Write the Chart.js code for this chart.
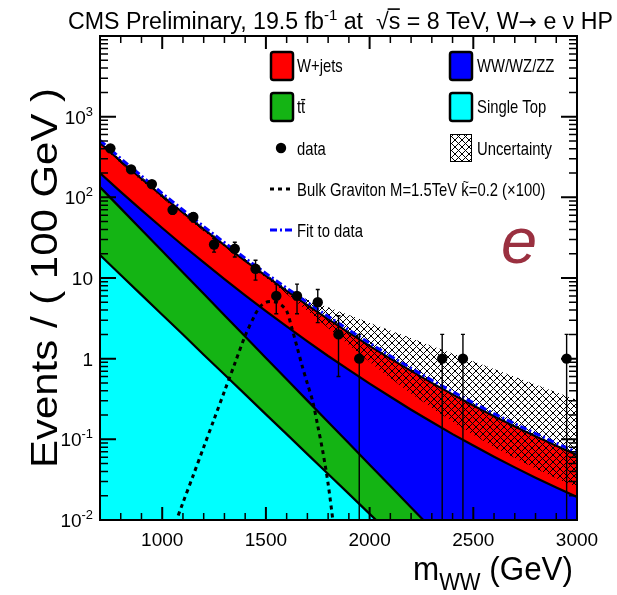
<!DOCTYPE html>
<html>
<head>
<meta charset="utf-8">
<script src="https://cdn.jsdelivr.net/npm/chart.js@4.4.1/dist/chart.umd.min.js"></script>
<style>
  html, body { margin: 0; padding: 0; background: #fff; }
  #c { display: block; }
</style>
</head>
<body>
<canvas id="c" width="617" height="595"></canvas>
<script>
// ---- background fit curves, sampled every 100 GeV (stacked edges, events / 100 GeV)
const massGrid = [700, 800, 900, 1000, 1100, 1200, 1300, 1400, 1500, 1600, 1700, 1800,
                  1900, 2000, 2100, 2200, 2300, 2400, 2500, 2600, 2700, 2800, 2900, 3000];
const stackSingleTop = [19.3, 10.9, 6.18, 3.50, 1.99, 1.12, 0.637, 0.361, 0.204, 0.116, 0.0656, 0.0372,
                        0.0211, 0.0119, 0.00676, 0.00383, 0.00217, 0.00123, 0.0007, 0.0004, 0.00022, 0.00013, 0.00007, 0.00004];
const stackTTbar = [134, 73.0, 39.7, 21.6, 11.7, 6.37, 3.46, 1.88, 1.02, 0.556, 0.302, 0.164,
                    0.0892, 0.0485, 0.0264, 0.0143, 0.0078, 0.0042, 0.0023, 0.00125, 0.00068, 0.00037, 0.0002, 0.00011];
const stackDiboson = [200, 117, 69.5, 41.7, 25.3, 15.6, 9.70, 6.11, 3.89, 2.51, 1.64, 1.08,
                      0.726, 0.491, 0.337, 0.233, 0.164, 0.116, 0.0837, 0.0609, 0.0449, 0.0335, 0.0253, 0.0193];
const stackWJets = [471, 281, 170, 104, 64.4, 40.3, 25.5, 16.3, 10.6, 6.94, 4.61, 3.09,
                    2.10, 1.44, 1.00, 0.705, 0.501, 0.361, 0.262, 0.193, 0.144, 0.109, 0.083, 0.064];
const fitCurve = [509, 303, 184, 112, 69.6, 43.5, 27.5, 17.6, 11.4, 7.50, 4.98, 3.34,
                  2.27, 1.56, 1.08, 0.761, 0.541, 0.390, 0.283, 0.208, 0.156, 0.118, 0.0896, 0.0691];
const uncUpper = [499, 298, 180, 110, 68.3, 42.7, 27.0, 17.3, 11.2, 7.36, 5.41, 4.34,
                  3.48, 2.79, 2.24, 1.80, 1.44, 1.16, 0.927, 0.743, 0.596, 0.478, 0.384, 0.308];
const uncLower = [445, 265, 160.5, 98.2, 60.8, 38.1, 24.1, 15.4, 10.0, 6.33, 3.92, 2.40,
                  1.49, 0.909, 0.575, 0.370, 0.245, 0.165, 0.114, 0.0805, 0.0587, 0.0434, 0.0330, 0.0255];

// ---- observed events (bin centres) with their errors
const dataMass = [750, 850, 950, 1050, 1150, 1250, 1350, 1450, 1550, 1650, 1750, 1850, 1950, 2350, 2450, 2950];
const dataCounts = [405, 222, 146, 70, 57, 26, 23, 13, 6, 6, 5, 2, 1, 1, 1, 1];
const dataErr = [20.1, 14.9, 12.1, 8.4, 7.5, 5.1, 4.8, 3.6, 2.4, 2.4, 2.2, 1.4, 1, 1, 1, 1];

// ---- Bulk graviton signal, M = 1.5 TeV, scaled x100
const sigMass = [1050, 1100, 1150, 1200, 1250, 1300, 1350, 1400, 1450, 1475, 1500, 1525,
                 1550, 1575, 1600, 1625, 1650, 1675, 1700, 1725, 1750, 1775, 1800, 1825];
const sigYield = [0.0074, 0.0164, 0.036, 0.080, 0.177, 0.393, 0.87, 1.92, 3.6, 4.5, 5.0, 5.1,
                  5.0, 4.6, 3.9, 2.4, 1.4, 0.81, 0.49, 0.30, 0.147, 0.069, 0.028, 0.009];

// ---- axis labelling
const xTickLabels = [1000, 1500, 2000, 2500, 3000];
const yTickExponents = [-2, -1, 0, 1, 2, 3];

const COL_WJETS = '#ff0000';
const COL_VV = '#0000ff';
const COL_TT = '#14b414';
const COL_ST = '#00ffff';
const FONT = '"Liberation Sans", Arial, Helvetica, sans-serif';

function font(size, style, family) { return (style || '') + ' ' + size + 'px ' + (family || FONT); }

// crosshatch used for the systematic band
function makeHatch(ctx) {
  const s = 7;
  const c = document.createElement('canvas');
  c.width = s; c.height = s;
  const g = c.getContext('2d');
  g.strokeStyle = '#000';
  g.lineWidth = 1;
  g.beginPath();
  g.moveTo(-1, -1); g.lineTo(s + 1, s + 1);
  g.moveTo(s + 1, -1); g.lineTo(-1, s + 1);
  g.stroke();
  return ctx.createPattern(c, 'repeat');
}

// rich text: parts = [{t, s (size factor), dy (em offset), bar, tilde, f (family)}]
function measureParts(ctx, parts, size) {
  let w = 0;
  for (const p of parts) {
    ctx.font = font(size * (p.s || 1), p.it ? 'italic' : '', p.f);
    p._w = ctx.measureText(p.t).width;
    w += p._w;
  }
  return w;
}
function drawParts(ctx, parts, x, y, size, opt) {
  opt = opt || {};
  const raw = measureParts(ctx, parts, size);
  const sx = opt.width ? opt.width / raw : (opt.sx || 1);
  const w = raw * sx;
  const align = opt.align || 'left';
  const x0 = align === 'right' ? x - w : align === 'center' ? x - w / 2 : x;
  ctx.save();
  ctx.translate(x0, y);
  ctx.scale(sx, 1);
  ctx.fillStyle = opt.color || '#000';
  ctx.textAlign = 'left';
  ctx.textBaseline = 'alphabetic';
  let cx = 0;
  for (const p of parts) {
    const ps = size * (p.s || 1);
    const dy = (p.dy || 0) * size;
    ctx.font = font(ps, p.it ? 'italic' : '', p.f);
    ctx.fillText(p.t, cx, dy);
    if (p.bar) ctx.fillRect(cx + (p.barX || 0), dy - ps * (p.barY || 0.84), p._w * (p.barW || 0.9), Math.max(1.2, ps * 0.07));
    if (p.tilde) {
      ctx.font = font(ps * 0.7);
      const tw = ctx.measureText('~').width;
      ctx.fillText('~', cx + (p._w - tw) / 2 + 1, dy - ps * 0.52);
    }
    cx += p._w;
  }
  ctx.restore();
  return w;
}

const decor = {
  id: 'decor',
  beforeDatasetDraw(chart, args) {
    if (args.index !== 0) return;
    const { ctx, chartArea: a } = chart;
    const xs = chart.scales.x, ys = chart.scales.y;
    ctx.save();
    ctx.beginPath();
    ctx.rect(a.left, a.top, a.right - a.left, a.bottom - a.top);
    ctx.clip();
    ctx.strokeStyle = '#000';
    ctx.lineWidth = 1.4;
    dataMass.forEach((m, i) => {
      const px = xs.getPixelForValue(m);
      const hi = ys.getPixelForValue(dataCounts[i] + dataErr[i]);
      const lowVal = dataCounts[i] - dataErr[i];
      const lo = lowVal > 0 ? ys.getPixelForValue(lowVal) : a.bottom + 5;
      ctx.beginPath();
      ctx.moveTo(px, hi); ctx.lineTo(px, lo);
      ctx.moveTo(px - 2, hi); ctx.lineTo(px + 2, hi);
      ctx.moveTo(px - 2, lo); ctx.lineTo(px + 2, lo);
      ctx.stroke();
    });
    ctx.restore();
  },
  afterDraw(chart) {
    const { ctx, chartArea: a } = chart;
    const xs = chart.scales.x, ys = chart.scales.y;

    // frame
    ctx.save();
    ctx.strokeStyle = '#000';
    ctx.lineWidth = 2;
    ctx.strokeRect(a.left, a.top, a.right - a.left, a.bottom - a.top);

    // x ticks (bottom and top), pointing inwards
    for (let m = 700; m <= 3000; m += 100) {
      const major = m % 500 === 0;
      const len = major ? 13 : 7;
      const px = xs.getPixelForValue(m);
      ctx.lineWidth = major ? 2 : 1.5;
      ctx.beginPath();
      ctx.moveTo(px, a.bottom); ctx.lineTo(px, a.bottom - len);
      ctx.moveTo(px, a.top); ctx.lineTo(px, a.top + len);
      ctx.stroke();
    }
    // y ticks (left and right)
    for (let d = -2; d <= 4; d++) {
      for (let k = 1; k <= 9; k++) {
        const v = k * Math.pow(10, d);
        if (v > 10000.0001) break;
        const major = k === 1;
        const len = major ? 16 : 8;
        const py = ys.getPixelForValue(v);
        ctx.lineWidth = major ? 2 : 1.5;
        ctx.beginPath();
        ctx.moveTo(a.left, py); ctx.lineTo(a.left + len, py);
        ctx.moveTo(a.right, py); ctx.lineTo(a.right - len, py);
        ctx.stroke();
      }
    }
    ctx.restore();

    // x tick labels
    xTickLabels.forEach(m => {
      drawParts(ctx, [{ t: String(m) }], xs.getPixelForValue(m), a.bottom + 26, 19, { align: 'center' });
    });
    // y tick labels
    yTickExponents.forEach(e => {
      const py = ys.getPixelForValue(Math.pow(10, e));
      let parts;
      if (e === 0) parts = [{ t: '1' }];
      else if (e === 1) parts = [{ t: '10' }];
      else parts = [{ t: '10' }, { t: String(e), s: 0.68, dy: -0.42 }];
      drawParts(ctx, parts, 93, py + 7, 19, { align: 'right' });
    });

    // axis titles
    drawParts(ctx, [{ t: 'm' }, { t: 'WW', s: 0.7, dy: 0.3 }, { t: ' (GeV)' }], 573, 580, 33, { align: 'right', width: 160 });
    ctx.save();
    ctx.translate(57, 278);
    ctx.rotate(-Math.PI / 2);
    drawParts(ctx, [{ t: 'Events / ( 100 GeV )' }], 0, 0, 37, { align: 'center', width: 380 });
    ctx.restore();

    // title
    drawParts(ctx, [
      { t: 'CMS Preliminary, 19.5 fb' }, { t: '-1', s: 0.65, dy: -0.4 }, { t: ' at  ' },
      { t: '\u221A' }, { t: 's', bar: true, barX: -1, barW: 1.05, barY: 0.9 }, { t: ' = 8 TeV, W' },
      { t: '\u2192', f: '"DejaVu Sans", sans-serif', s: 0.95 }, { t: ' e ' }, { t: '\u03BD' }, { t: ' HP' }
    ], 68, 29, 23, { width: 545 });

    // channel tag
    drawParts(ctx, [{ t: 'e', it: true }], 501, 263, 65, { color: '#9a3040' });

    // legend
    const LS = 19, LSX = 0.78;
    function box(x, y, fill) {
      ctx.save();
      ctx.fillStyle = fill;
      ctx.strokeStyle = '#000';
      ctx.lineWidth = 2.5;
      ctx.beginPath();
      if (ctx.roundRect) ctx.roundRect(x, y, 22, 28, 2.5); else ctx.rect(x, y, 22, 28);
      ctx.fill();
      ctx.stroke();
      ctx.restore();
    }
    box(271, 52, COL_WJETS);
    box(450, 52, COL_VV);
    box(271, 93, COL_TT);
    box(450, 93, COL_ST);
    ctx.save();
    ctx.fillStyle = '#fff';
    ctx.fillRect(450, 134, 22, 28);
    ctx.fillStyle = makeHatch(ctx);
    ctx.fillRect(450, 134, 22, 28);
    ctx.strokeStyle = '#000';
    ctx.lineWidth = 1;
    ctx.strokeRect(450.5, 134.5, 21, 27);
    // data marker
    ctx.fillStyle = '#000';
    ctx.beginPath(); ctx.arc(281, 148, 5.2, 0, Math.PI * 2); ctx.fill();
    // signal and fit samples
    ctx.lineWidth = 3;
    ctx.strokeStyle = '#000';
    ctx.setLineDash([4, 4]);
    ctx.beginPath(); ctx.moveTo(270, 189); ctx.lineTo(294, 189); ctx.stroke();
    ctx.strokeStyle = '#0000ff';
    ctx.setLineDash([7, 3, 2, 3]);
    ctx.beginPath(); ctx.moveTo(270, 230); ctx.lineTo(294, 230); ctx.stroke();
    ctx.restore();

    drawParts(ctx, [{ t: 'W+jets' }], 297, 72, LS, { sx: LSX });
    drawParts(ctx, [{ t: 'WW/WZ/ZZ' }], 477, 72, LS, { sx: LSX });
    drawParts(ctx, [{ t: 't' }, { t: 't', bar: true, barY: 0.74, barW: 1.0 }], 297, 113, LS, { sx: LSX });
    drawParts(ctx, [{ t: 'Single Top' }], 477, 113, LS, { sx: LSX });
    drawParts(ctx, [{ t: 'data' }], 297, 155, LS, { sx: LSX });
    drawParts(ctx, [{ t: 'Uncertainty' }], 477, 155, LS, { sx: LSX });
    drawParts(ctx, [{ t: 'Bulk Graviton M=1.5TeV ' }, { t: 'k', tilde: true }, { t: '=0.2 (\u00D7100)' }], 297, 196, LS, { sx: LSX });
    drawParts(ctx, [{ t: 'Fit to data' }], 297, 237, LS, { sx: LSX });
  }
};

const ctx = document.getElementById('c').getContext('2d');
const pts = (xs, ys) => xs.map((x, i) => ({ x: x, y: ys[i] }));
const noLine = { borderColor: 'rgba(0,0,0,0)', borderWidth: 0, pointRadius: 0 };

new Chart(ctx, {
  type: 'line',
  data: {
    datasets: [
      { label: 'data', data: pts(dataMass, dataCounts), showLine: false,
        pointRadius: 5.2, pointBackgroundColor: '#000', pointBorderColor: '#000', pointBorderWidth: 0, clip: 0 },
      { label: 'Fit to data', data: pts(massGrid, fitCurve), borderColor: '#0000ff', borderWidth: 3,
        borderDash: [7, 3, 2, 3], pointRadius: 0, fill: false, clip: 0 },
      { label: 'Bulk Graviton', data: pts(sigMass, sigYield), borderColor: '#000', borderWidth: 3,
        borderDash: [4, 4], pointRadius: 0, fill: false, tension: 0.3, clip: 0 },
      Object.assign({ label: 'unc-low', data: pts(massGrid, uncLower), fill: false, clip: 0 }, noLine),
      Object.assign({ label: 'Uncertainty', data: pts(massGrid, uncUpper), fill: '-1',
        backgroundColor: makeHatch(ctx), clip: 0 }, noLine),
      { label: 'W+jets', data: pts(massGrid, stackWJets), borderColor: '#000', borderWidth: 2.2,
        pointRadius: 0, fill: '+1', backgroundColor: COL_WJETS, clip: 0 },
      { label: 'WW/WZ/ZZ', data: pts(massGrid, stackDiboson), borderColor: '#000', borderWidth: 2.2,
        pointRadius: 0, fill: '+1', backgroundColor: COL_VV, clip: 0 },
      { label: 'ttbar', data: pts(massGrid, stackTTbar), borderColor: '#000', borderWidth: 2.2,
        pointRadius: 0, fill: '+1', backgroundColor: COL_TT, clip: 0 },
      { label: 'Single Top', data: pts(massGrid, stackSingleTop), borderColor: '#000', borderWidth: 2.2,
        pointRadius: 0, fill: 'start', backgroundColor: COL_ST, clip: 0 }
    ]
  },
  options: {
    responsive: false,
    animation: false,
    devicePixelRatio: 1,
    events: [],
    layout: { padding: { left: 100, top: 36, right: 40, bottom: 75 } },
    scales: {
      x: { type: 'linear', min: 700, max: 3000, display: false },
      y: { type: 'logarithmic', min: 0.01, max: 10000, display: false }
    },
    elements: { line: { tension: 0 } },
    plugins: {
      legend: { display: false },
      tooltip: { enabled: false },
      filler: { drawTime: 'beforeDatasetsDraw' }
    }
  },
  plugins: [decor]
});
</script>
</body>
</html>
